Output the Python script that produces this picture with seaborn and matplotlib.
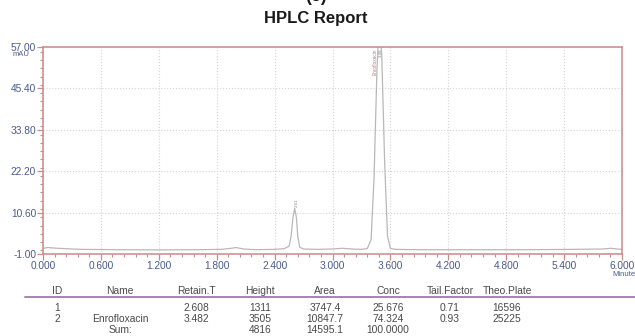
import matplotlib
matplotlib.use("Agg")
import matplotlib.pyplot as plt
from matplotlib.ticker import MultipleLocator, FixedLocator
import seaborn as sns
import pandas as pd

# ---- chromatogram ----
times = [0.00, 0.05, 0.15, 0.40, 0.80, 1.20, 1.60, 1.85, 1.95, 2.00, 2.08, 2.20, 2.40,
         2.50, 2.55, 2.57, 2.59, 2.608, 2.625, 2.64, 2.66, 2.70, 2.85, 3.00, 3.10, 3.20,
         3.30, 3.36, 3.40, 3.43, 3.46, 3.482, 3.51, 3.54, 3.57, 3.60, 3.65, 3.90, 4.50,
         5.00, 5.50, 5.80, 5.88, 5.95, 6.00]
signal = [0.6, 0.8, 0.6, 0.3, 0.2, 0.15, 0.2, 0.3, 0.6, 0.8, 0.4, 0.2, 0.3,
          0.5, 1.2, 3.8, 9.2, 11.8, 9.4, 4.0, 0.9, 0.4, 0.3, 0.4, 0.6, 0.4,
          0.3, 0.5, 3.0, 20.0, 50.0, 64.0, 55.0, 25.0, 4.0, 0.6, 0.3, 0.2, 0.2,
          0.2, 0.3, 0.4, 0.6, 0.4, 0.3]

peak_times = [2.608, 3.482]
peak_labels = ["2.61", "3.48"]
peak_names = ["", "Enrofloxacin"]

x_ticks = [0.000, 0.600, 1.200, 1.800, 2.400, 3.000, 3.600, 4.200, 4.800, 5.400, 6.000]
y_ticks = [-1.00, 10.60, 22.20, 33.80, 45.40, 57.00]

# ---- result table ----
col_headers = ["ID", "Name", "Retain.T", "Height", "Area", "Conc", "Tail.Factor", "Theo.Plate"]
row1 = ["1", "", "2.608", "1311", "3747.4", "25.676", "0.71", "16596"]
row2 = ["2", "Enrofloxacin", "3.482", "3505", "10847.7", "74.324", "0.93", "25225"]
row_sum = ["", "Sum:", "", "4816", "14595.1", "100.0000", "", ""]

sns.set_style("white")
plt.rcParams['font.family'] = ['Liberation Sans', 'DejaVu Sans']

fig = plt.figure(figsize=(6.35, 3.36), dpi=100)
ax = fig.add_axes([43/635, 1-254/336, (622-43)/635, (254-47)/336])

df = pd.DataFrame({"t": times, "s": signal})
sns.lineplot(data=df, x="t", y="s", ax=ax, color="#b8b8b8", linewidth=0.9,
             estimator=None, sort=False)

ax.set_xlim(0, 6)
ax.set_ylim(-1, 57)
ax.xaxis.set_major_locator(FixedLocator(x_ticks))
ax.yaxis.set_major_locator(FixedLocator(y_ticks))
ax.xaxis.set_minor_locator(MultipleLocator(0.12))
ax.yaxis.set_minor_locator(MultipleLocator(2.32))
ax.set_xticklabels([f"{v:.3f}" for v in x_ticks])
ax.set_yticklabels([f"{v:.2f}" for v in y_ticks])
ax.set_xlabel("")
ax.set_ylabel("")

spine_col = "#c98a8a"
lab_col = "#4a5a8c"
for s in ax.spines.values():
    s.set_color(spine_col)
    s.set_linewidth(1.1)
    s.set_visible(True)
ax.tick_params(axis="both", which="major", direction="out", length=4, width=0.9,
               color=spine_col, labelcolor=lab_col, labelsize=7.3, pad=1)
ax.tick_params(axis="both", which="minor", direction="out", length=2.2, width=0.8,
               color=spine_col)
ax.tick_params(axis="x", which="both", bottom=True, top=False)
ax.tick_params(axis="y", which="both", left=True, right=False)
ax.grid(True, which="major", color="#d4d4d4", linestyle=":", linewidth=0.8)
ax.set_axisbelow(True)

# peak annotations
ax.text(peak_times[0] + 0.02, 12.2, peak_labels[0], rotation=90, fontsize=3.2,
        color="#888888", ha="center", va="bottom")
ax.text(peak_times[1] - 0.045, 56.5, peak_names[1], rotation=90, fontsize=3.4,
        color="#c07878", ha="center", va="top")
ax.text(peak_times[1] + 0.02, 56.5, peak_labels[1], rotation=90, fontsize=3.2,
        color="#888888", ha="center", va="top")

# axis unit labels
fig.text(21/635, 1-51.5/336, "mAU", fontsize=5.5, color=lab_col, ha="center", va="top")
fig.text(624/635, 1-270.5/336, "Minute", fontsize=5.5, color=lab_col, ha="center", va="top")

# titles
fig.text(316/635, 1-18/336, "HPLC Report", fontsize=12, fontweight="bold",
         color="#1a1a1a", ha="center", va="center")
fig.text(316/635, 1-1/336, "(c)", fontsize=13, fontweight="bold",
         color="#1a1a1a", ha="center", va="baseline")

# table
col_x = [57, 120, 196, 260, 325, 388, 450, 507]
row_y = [291, 308, 319, 330]
tcol = "#4a4a4a"
for rows, yy in zip([col_headers, row1, row2, row_sum], row_y):
    for txt, xx in zip(rows, col_x):
        if txt:
            fig.text(xx/635, 1-yy/336, txt, fontsize=7.4, color=tcol,
                     ha="center", va="center")
fig.add_artist(plt.Line2D([25/635, 1.0], [1-297/336, 1-297/336],
                          color="#a07aae", linewidth=1.3, transform=fig.transFigure))

fig.savefig("out.png", dpi=100)
